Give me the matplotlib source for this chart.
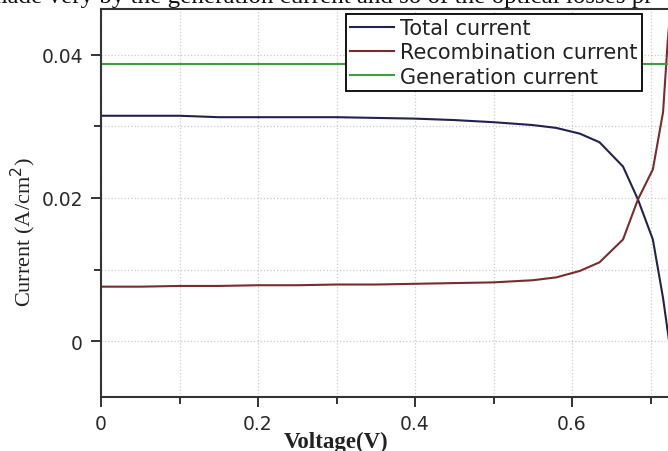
import numpy as np
import matplotlib
matplotlib.use('Agg')
import matplotlib.pyplot as plt
from matplotlib.ticker import MultipleLocator, FixedLocator, FuncFormatter

# values (V in volts, currents in A/cm^2)
voltage = [0.0, 0.05, 0.1, 0.15, 0.2, 0.25, 0.3, 0.35, 0.4, 0.45, 0.5,
           0.55, 0.58, 0.61, 0.635, 0.665, 0.684, 0.703, 0.716, 0.722, 0.73]
total_current = [0.0315, 0.0315, 0.0315, 0.0313, 0.0313, 0.0313, 0.0313, 0.0312,
                 0.0311, 0.0309, 0.0306, 0.0302, 0.0298, 0.0290, 0.0278, 0.0244,
                 0.0198, 0.0142, 0.0060, 0.0013, -0.0050]
recomb_current = [0.0076, 0.0076, 0.0077, 0.0077, 0.0078, 0.0078, 0.0079, 0.0079,
                  0.0080, 0.0081, 0.0082, 0.0085, 0.0089, 0.0098, 0.0110, 0.0142,
                  0.0198, 0.0240, 0.0320, 0.0420, 0.0520]
gen_current = [0.0387] * len(voltage)
x_ticks = [0, 0.2, 0.4, 0.6]

labels = ['Total current', 'Recombination current', 'Generation current']
colors = ['#22224e', '#7a2b2b', '#3f9f3f']

W, H = 668, 452
fig = plt.figure(figsize=(W / 100, H / 100), dpi=100)
fig.patch.set_facecolor('white')

# axes: left spine at x=101 px, bottom at y=398 px, top at y=10 px
ax = fig.add_axes([101 / W, 54 / H, 0.8 * 785 / W, 388 / H])
ax.set_xlim(0, 0.8)
ax.set_ylim(-0.00783, 0.04643)

ax.plot(voltage, total_current, color=colors[0], lw=1.5, label=labels[0])
ax.plot(voltage, recomb_current, color=colors[1], lw=1.5, label=labels[1])
ax.plot(voltage, gen_current, color=colors[2], lw=1.5, label=labels[2])

ax.xaxis.set_major_locator(FixedLocator(x_ticks))
ax.xaxis.set_minor_locator(FixedLocator([0.1, 0.3, 0.5, 0.7]))
ax.yaxis.set_major_locator(MultipleLocator(0.02))
ax.yaxis.set_minor_locator(MultipleLocator(0.01))
fmt = FuncFormatter(lambda v, p: '%g' % round(v, 4))
ax.xaxis.set_major_formatter(fmt)
ax.yaxis.set_major_formatter(fmt)

ax.grid(which='both', color='#cccccc', linestyle=':', linewidth=0.9)
ax.tick_params(which='both', direction='out', width=1.4, color='#333333',
               labelsize=13.5, labelcolor='#2a2a2a')
ax.tick_params(which='major', length=7)
ax.tick_params(which='minor', length=5)
ax.tick_params(axis='y', pad=6)
ax.tick_params(axis='x', pad=5)
for s in ['left', 'bottom', 'top']:
    ax.spines[s].set_linewidth(1.5)
    ax.spines[s].set_color('#333333')
ax.spines['right'].set_visible(False)

fig.text(23 / W, 1 - 232 / H, 'Current (A/cm$^2$)', rotation=90, ha='center', va='center',
         fontsize=16, family='Liberation Serif', color='#222222')
fig.text(336 / W, 1 - 442 / H, 'Voltage(V)', ha='center', va='center',
         fontsize=16.5, family='Liberation Serif', fontweight='bold', color='#222222')

# cropped line of body text above the figure
fig.text(-12 / W, 1 - 3 / H, 'made very by the generation current and so of the optical losses pr',
         ha='left', va='baseline', fontsize=18, family='Liberation Serif', color='#111111')

leg = ax.legend(loc='upper left', bbox_to_anchor=(346 / W, 1 - 15 / H),
                bbox_transform=fig.transFigure, borderaxespad=0, fancybox=False,
                framealpha=1, edgecolor='black', prop={'family': 'DejaVu Sans', 'size': 15},
                handlelength=2.1, handletextpad=0.3, borderpad=0.2, labelspacing=0.2)
leg.get_frame().set_linewidth(1.3)
for t in leg.get_texts():
    t.set_color('#222222')

fig.savefig('out.png', dpi=100)
